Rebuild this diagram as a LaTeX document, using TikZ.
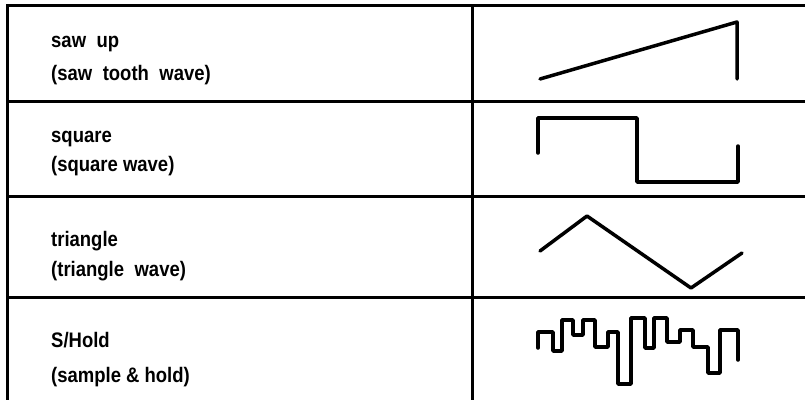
\documentclass[tikz,border=0pt]{standalone}
\usepackage{fontspec}
\setmainfont[FakeStretch=0.88]{Liberation Sans}
\usetikzlibrary{positioning}

\begin{document}
\begin{tikzpicture}[
  x=1pt, y=-1pt,
  every node/.style={font=\fontsize{21}{25}\selectfont\bfseries},
  rule/.style={line width=3pt, line cap=rect},
  wave/.style={line width=3.5pt, line cap=round, line join=round},
  lbl/.style={anchor=base west, inner sep=0pt},
]

% --- Frame (fixes the page size) ---
\useasboundingbox (0,0) rectangle (805,399);

% --- Table rules ---
\foreach \yy in {5,101,196,297} {
  \draw[rule] (7,\yy) -- (805,\yy);
}
\draw[rule] (7,5) -- (7,399);
\draw[rule] (472,5) -- (472,399);

% --- Row labels ---
\node[lbl] (saw)      at (51,47)  {saw\enspace up};
\node[lbl] (sawsub)   at (51,80)  {(saw\enspace tooth\enspace wave)};
\node[lbl] (sqr)      at (51,142) {square};
\node[lbl] (sqrsub)   at (51,171) {(square wave)};
\node[lbl] (tri)      at (51,246) {triangle};
\node[lbl] (trisub)   at (51,276) {(triangle\enspace wave)};
\node[lbl] (shold)    at (51,347) {S/Hold};
\node[lbl] (sholdsub) at (51,382) {(sample \& hold)};

% --- Waveforms ---
\draw[wave] (540,79) -- (737,22) -- (737,79);
\draw[wave] (538,153) -- (538,118) -- (637,118) -- (637,182)
  -- (738,182) -- (738,146);
\draw[wave] (540,251) -- (587,216) -- (691,288) -- (742,253);
\draw[wave] (538,348) -- (538,332) -- (553,332) -- (553,351)
  -- (562,351) -- (562,320) -- (573,320) -- (573,335) -- (583,335)
  -- (583,320) -- (595,320) -- (595,347) -- (608,347) -- (608,332)
  -- (618,332) -- (618,384) -- (631,384) -- (631,318) -- (645,318)
  -- (645,348) -- (654,348) -- (654,318) -- (667,318) -- (667,342)
  -- (680,342) -- (680,330) -- (693,330) -- (693,347) -- (708,347)
  -- (708,373) -- (720,373) -- (720,330) -- (738,330) -- (738,360);

\end{tikzpicture}
\end{document}
